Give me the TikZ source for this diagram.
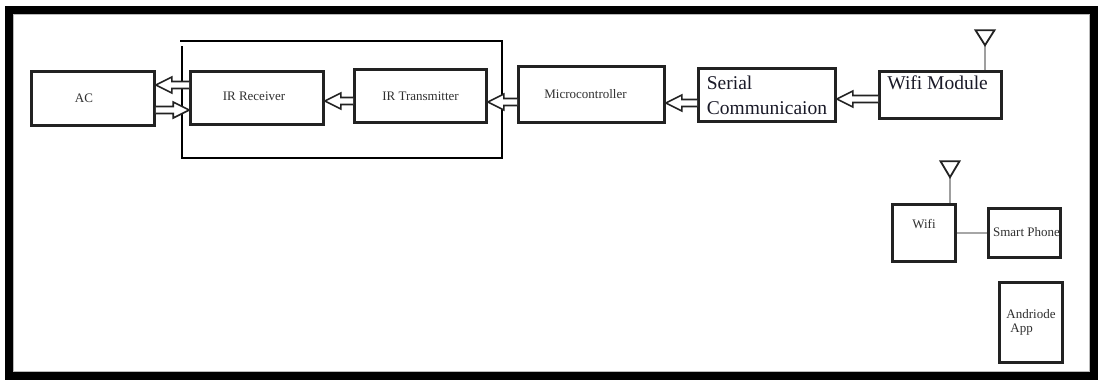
\documentclass[tikz,border=0pt]{standalone}
\usepackage{fontspec}
\setmainfont{Liberation Serif}
\usetikzlibrary{calc}
\definecolor{boxc}{HTML}{222222}
\definecolor{txtc}{HTML}{303030}
\definecolor{bigc}{HTML}{1A1A28}
\newcommand\smalltext{\fontsize{13}{15}\selectfont}
\newcommand\bigtext{\fontsize{19.5}{25}\selectfont}
\tikzset{
  box/.style={draw=boxc, line width=2.6pt, inner sep=0pt, align=center, font=\smalltext, text=txtc},
  bigbox/.style={box, font=\bigtext, text=bigc, align=left},
  blk/.style={draw=boxc, line width=1.6pt, fill=white},
  ant/.style={draw=boxc, line width=1.8pt, fill=white},
  antline/.style={draw=gray!75, line width=1.3pt},
  conn/.style={draw=gray!70, line width=1.8pt},
  grp/.style={draw=black, line width=1.2pt},
  frame/.style={draw=black, line width=8pt},
}
\newcommand\blockarr[2]{%
  \coordinate (ban) at ($(#2)!16pt!(#1)$);
  \draw[blk] ($(#1)+(0,-3.5)$) -- ($(ban)+(0,-3.5)$) -- ($(ban)+(0,-8)$) -- (#2)
    -- ($(ban)+(0,8)$) -- ($(ban)+(0,3.5)$) -- ($(#1)+(0,3.5)$);}
\begin{document}
\begin{tikzpicture}[x=1pt,y=-1pt]
\useasboundingbox (0,0) rectangle (1100,381);
\fill[white] (0,0) rectangle (1100,381);
% outer frame
\draw[frame] (9,10) rectangle (1094,376);
\draw[gray!55, line width=0.8pt] (13.6,14.6) rectangle (1089.4,371.4);
% group around IR parts
\draw[grp] (182,46) -- (182,158) -- (502,158) -- (502,41) -- (180,41);
% boxes
\node[box, minimum width=123pt, minimum height=54pt] (ac) at (93,98.5) {AC\hspace*{18pt}};
\node[box, minimum width=133pt, minimum height=53pt] (rx) at (257,98) {\raisebox{4pt}{IR Receiver}\hspace*{6pt}};
\node[box, minimum width=132pt, minimum height=53pt] (tx) at (420.5,96) {IR Transmitter};
\node[box, minimum width=146pt, minimum height=56pt] (mc) at (591.5,94.5) {Microcontroller\hspace*{12pt}};
\node[bigbox, minimum width=137pt, minimum height=53pt] (sc) at (767,95) {Serial\\Communicaion};
\node[box, minimum width=122pt, minimum height=47pt] (wm) at (940.5,95) {};
\node[anchor=base west, inner sep=0pt, font=\bigtext, text=bigc] (twm) at ($(wm.north west)+(9,19)$) {Wifi Module};
\node[box, minimum width=63pt, minimum height=57pt] (wf) at (924,233) {};
\node[anchor=base, inner sep=0pt, font=\smalltext, text=txtc] (twf) at ($(wf.north)+(0,25)$) {Wifi};
\node[box, minimum width=72pt, minimum height=49pt] (sp) at (1024.5,233) {\raisebox{3pt}{\hspace*{4pt}Smart Phone}};
\node[box, minimum width=63pt, minimum height=80pt, align=left] (aa) at (1031,322.5) {Andriode\\[-1pt]\hspace*{4pt}App};
% antennas
\coordinate (an1) at ($(wm.north)+(44.5,0)$);
\coordinate (an1t) at ($(an1)+(0,-25)$);
\draw[antline] (an1) -- (an1t);
\draw[ant] (an1t) -- ++(-9.5,-15) -- ++(19,0) -- cycle;
\coordinate (an2) at ($(wf.north)+(26,0)$);
\coordinate (an2t) at ($(an2)+(0,-26)$);
\draw[antline] (an2) -- (an2t);
\draw[ant] (an2t) -- ++(-9.5,-16) -- ++(19,0) -- cycle;
% connector wifi - phone
\draw[conn] (wf.east) -- (sp.west);
% block arrows
\coordinate (a1t) at ($(rx.west)+(0,-13)$);
\coordinate (a1h) at (ac.east |- a1t);
\blockarr{a1t}{a1h}
\coordinate (a2t) at ($(ac.east)+(0,11.5)$);
\coordinate (a2h) at (rx.west |- a2t);
\blockarr{a2t}{a2h}
\coordinate (a3t) at ($(tx.west)+(0,5)$);
\coordinate (a3h) at (rx.east |- a3t);
\blockarr{a3t}{a3h}
\coordinate (a4t) at ($(mc.west)+(0,7.5)$);
\coordinate (a4h) at (tx.east |- a4t);
\blockarr{a4t}{a4h}
\coordinate (a5t) at ($(sc.west)+(0,8)$);
\coordinate (a5h) at (mc.east |- a5t);
\blockarr{a5t}{a5h}
\coordinate (a6t) at ($(wm.west)+(0,4)$);
\coordinate (a6h) at (sc.east |- a6t);
\blockarr{a6t}{a6h}
\end{tikzpicture}
\end{document}
